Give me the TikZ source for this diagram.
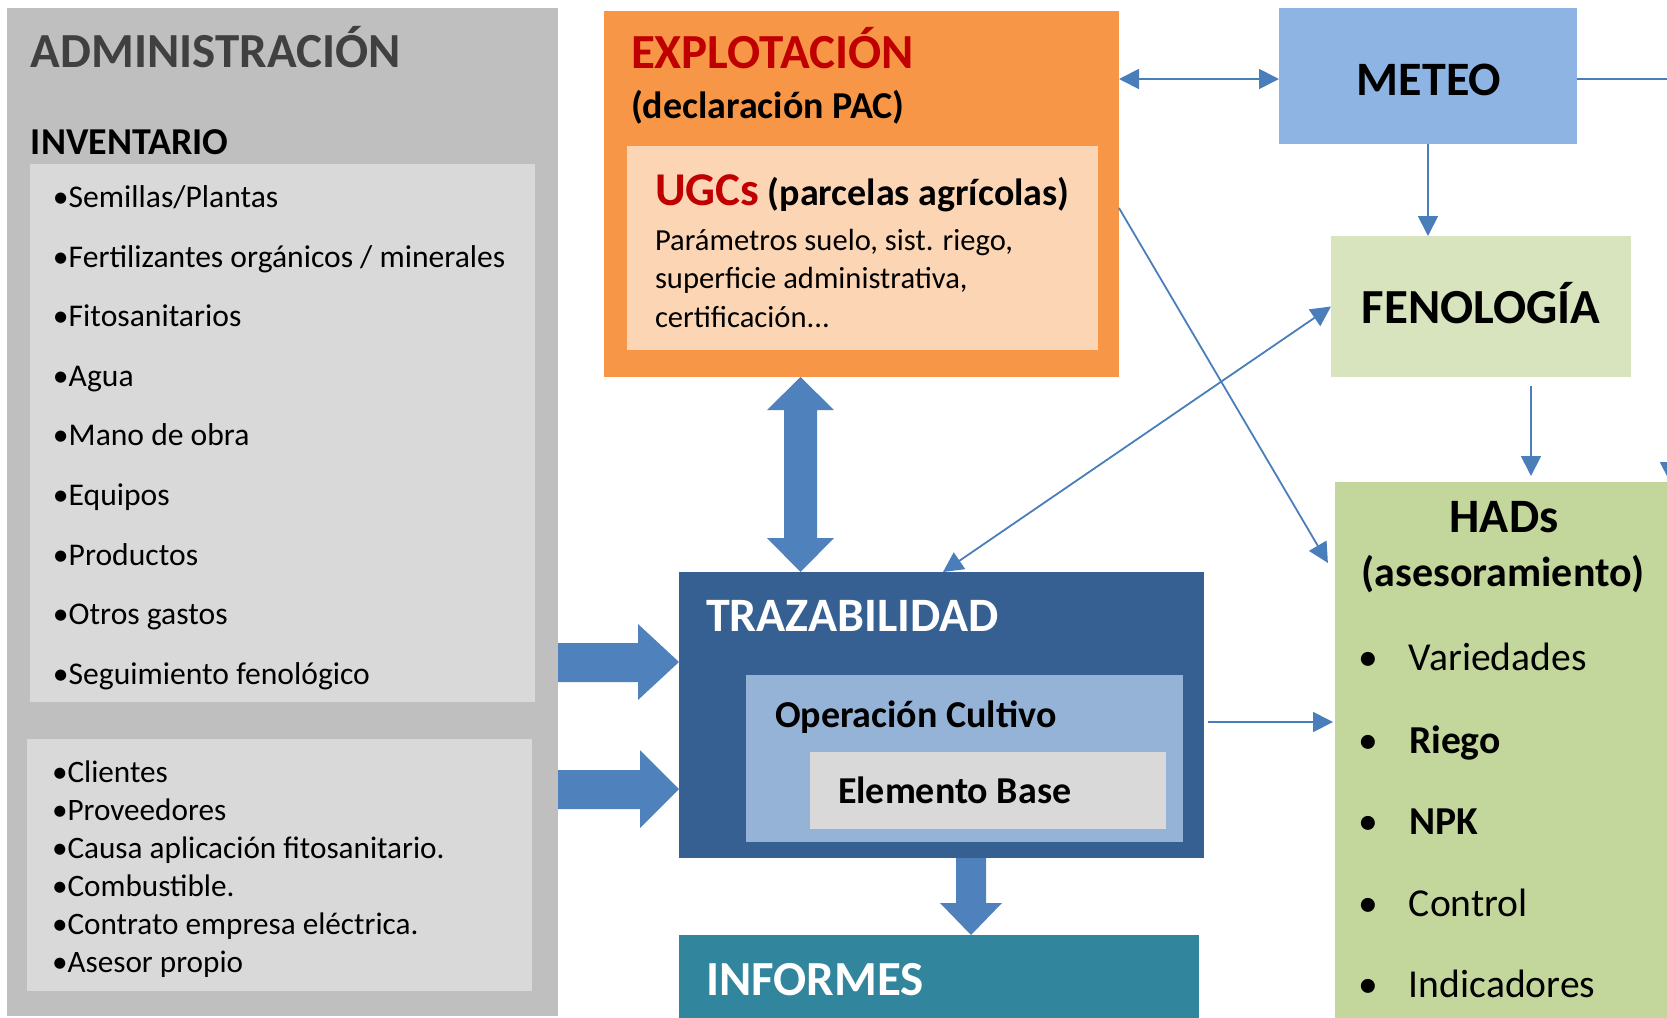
\documentclass[tikz,border=0pt]{standalone}
\usepackage{fontspec}
\setmainfont{Carlito}
\usetikzlibrary{arrows.meta,calc}

\definecolor{admingray}{HTML}{BFBFBF}
\definecolor{lightgray}{HTML}{D9D9D9}
\definecolor{titlegray}{HTML}{404040}
\definecolor{explorange}{HTML}{F79646}
\definecolor{ugcpeach}{HTML}{FCD5B4}
\definecolor{darkred}{HTML}{C00000}
\definecolor{meteoblue}{HTML}{8EB4E3}
\definecolor{fengreen}{HTML}{D7E4BD}
\definecolor{hadsgreen}{HTML}{C3D69B}
\definecolor{trazblue}{HTML}{376092}
\definecolor{operblue}{HTML}{95B3D7}
\definecolor{infoteal}{HTML}{31859C}
\definecolor{arrowblue}{HTML}{4F81BD}
\definecolor{linkblue}{HTML}{4A7EBB}

\tikzset{every picture/.style={line width=0.75pt}}
\tikzset{
	box/.style={anchor=north west, inner sep=0pt, outer sep=0pt, draw=none},
	txt/.style={anchor=base west, inner sep=0pt, outer sep=0pt},
	conn/.style={draw=linkblue, line width=0.9pt, -{Triangle[length=10pt,width=10pt]}},
	dconn/.style={draw=linkblue, line width=0.9pt, {Triangle[length=10pt,width=10pt]}-{Triangle[length=10pt,width=10pt]}},
	blockarrow/.style={fill=arrowblue, draw=none}}

\begin{document}
\begin{tikzpicture}[x=0.5pt,y=0.5pt,yscale=-1,xscale=1]
	\useasboundingbox (0,0) rectangle (1667,1018);
	\clip (0,0) rectangle (1667,1018);

	%Shape: Rectangle
	\node[box, fill=admingray, minimum width=275.5pt, minimum height=504pt] (admin) at (7,8) {};
	%Shape: Rectangle
	\node[box, fill=lightgray, minimum width=252.5pt, minimum height=269pt] (inv) at (30,164) {};
	%Shape: Rectangle
	\node[box, fill=lightgray, minimum width=252.5pt, minimum height=126pt] (misc) at (27,739) {};
	%Shape: Rectangle
	\node[box, fill=explorange, minimum width=257.5pt, minimum height=183pt] (explo) at (604,11) {};
	%Shape: Rectangle
	\node[box, fill=ugcpeach, minimum width=235.5pt, minimum height=102pt] (ugc) at (627,146) {};
	%Shape: Rectangle
	\node[box, fill=meteoblue, minimum width=149pt, minimum height=68pt] (meteo) at (1279,8) {};
	%Shape: Rectangle
	\node[box, fill=fengreen, minimum width=150pt, minimum height=70.5pt] (fen) at (1331,236) {};
	%Shape: Rectangle
	\node[box, fill=hadsgreen, minimum width=168.5pt, minimum height=275pt] (hads) at (1335,482) {};
	%Shape: Rectangle
	\node[box, fill=trazblue, minimum width=262.5pt, minimum height=143pt] (traz) at (679,572) {};
	%Shape: Rectangle
	\node[box, fill=operblue, minimum width=218.5pt, minimum height=83.5pt] (oper) at (746,675) {};
	%Shape: Rectangle
	\node[box, fill=lightgray, minimum width=178pt, minimum height=38.5pt] (elem) at (810,752) {};
	%Shape: Rectangle
	\node[box, fill=infoteal, minimum width=260pt, minimum height=50pt] (informes) at (679,935) {};

	%Right Arrow
	\fill[blockarrow] (explo.south -| 800.5,0) -- (834,410) -- (817,410) -- (817,538) -- (834,538) -- (traz.north -| 800.5,0) -- (767,538) -- (784,538) -- (784,410) -- (767,410) -- cycle ;
	%Right Arrow
	\fill[blockarrow] (admin.east |- 0,643) -- (638,643) -- (638,624) -- (traz.west |- 0,662) -- (638,700) -- (638,682) -- (admin.east |- 0,682) -- cycle ;
	%Right Arrow
	\fill[blockarrow] (admin.east |- 0,770) -- (640,770) -- (640,750) -- (traz.west |- 0,789) -- (640,828) -- (640,809) -- (admin.east |- 0,809) -- cycle ;
	%Right Arrow
	\fill[blockarrow] (traz.south -| 956,0) -- (986,858) -- (986,903) -- (1002,903) -- (informes.north -| 971,0) -- (940,903) -- (956,903) -- cycle ;

	%Straight Lines
	\draw[dconn] (explo.east |- 0,79) -- (meteo.west |- 0,79);
	\coordinate (meteoturn) at (1670,79);
	\draw[conn] (meteo.east |- 0,79) -- (meteoturn) -- (meteoturn |- hads.north);
	\draw[conn] (meteo.south) -- (meteo.south |- fen.north);
	\draw[conn, shorten <=4.5pt, shorten >=3pt] (fen.south -| 1531,0) -- (hads.north -| 1531,0);
	\draw[conn, shorten >=7pt] (explo.east |- 0,208) -- (hads.west |- 0,575);
	\draw[dconn] (traz.north -| 943,0) -- (fen.west);
	\draw[conn, shorten <=2pt, shorten >=1pt] (traz.east |- 0,722) -- (hads.west |- 0,722);

	% Text Node
	\node[txt, text=titlegray, font=\fontsize{24.5pt}{28pt}\selectfont\bfseries] (admintitle) at (31,67) {ADMINISTRACIÓN};
	% Text Node
	\node[txt, font=\fontsize{19pt}{22pt}\selectfont\bfseries] (invtitle) at (31,154) {INVENTARIO};
	% Text Node
	\node[txt, font=\fontsize{15.8pt}{19pt}\selectfont] (inv1) at (53,207) {•Semillas/Plantas};
	\node[txt, font=\fontsize{15.8pt}{19pt}\selectfont] (inv2) at (53,267) {•Fertilizantes orgánicos / minerales};
	\node[txt, font=\fontsize{15.8pt}{19pt}\selectfont] (inv3) at (53,326) {•Fitosanitarios};
	\node[txt, font=\fontsize{15.8pt}{19pt}\selectfont] (inv4) at (53,386) {•Agua};
	\node[txt, font=\fontsize{15.8pt}{19pt}\selectfont] (inv5) at (53,445) {•Mano de obra};
	\node[txt, font=\fontsize{15.8pt}{19pt}\selectfont] (inv6) at (53,505) {•Equipos};
	\node[txt, font=\fontsize{15.8pt}{19pt}\selectfont] (inv7) at (53,565) {•Productos};
	\node[txt, font=\fontsize{15.8pt}{19pt}\selectfont] (inv8) at (53,624) {•Otros gastos};
	\node[txt, font=\fontsize{15.8pt}{19pt}\selectfont] (inv9) at (53,684) {•Seguimiento fenológico};
	% Text Node
	\node[txt, font=\fontsize{15.6pt}{19pt}\selectfont] (misc1) at (52,782) {•Clientes};
	\node[txt, font=\fontsize{15.6pt}{19pt}\selectfont] (misc2) at (52,820) {•Proveedores};
	\node[txt, font=\fontsize{15.6pt}{19pt}\selectfont] (misc3) at (52,858) {•Causa aplicación fitosanitario.};
	\node[txt, font=\fontsize{15.6pt}{19pt}\selectfont] (misc4) at (52,896) {•Combustible.};
	\node[txt, font=\fontsize{15.6pt}{19pt}\selectfont] (misc5) at (52,934) {•Contrato empresa eléctrica.};
	\node[txt, font=\fontsize{15.6pt}{19pt}\selectfont] (misc6) at (52,972) {•Asesor propio};

	% Text Node
	\node[txt, text=darkred, font=\fontsize{24.5pt}{28pt}\selectfont\bfseries] (explotitle) at (631,68) {EXPLOTACIÓN};
	% Text Node
	\node[txt, font=\fontsize{19pt}{22pt}\selectfont\bfseries] (explosub) at (631,118) {(declaración PAC)};
	% Text Node
	\node[txt, font=\fontsize{19pt}{22pt}\selectfont\bfseries] (ugctitle) at (655,205) {{\color{darkred}\fontsize{23.5pt}{26pt}\selectfont UGCs} (parcelas agrícolas)};
	% Text Node
	\node[txt, font=\fontsize{15.3pt}{19pt}\selectfont] (ugc1) at (655,250) {Parámetros suelo, sist. riego,};
	\node[txt, font=\fontsize{15.3pt}{19pt}\selectfont] (ugc2) at (655,288) {superficie administrativa,};
	\node[txt, font=\fontsize{15.3pt}{19pt}\selectfont] (ugc3) at (655,327) {certificación...};

	% Text Node
	\node[anchor=base, inner sep=0pt, font=\fontsize{24pt}{28pt}\selectfont\bfseries] (meteotitle) at (1429,95) {METEO};
	% Text Node
	\node[anchor=base, inner sep=0pt, font=\fontsize{24.5pt}{28pt}\selectfont\bfseries] (fentitle) at (1481,323) {FENOLOGÍA};

	% Text Node
	\node[anchor=base, inner sep=0pt, font=\fontsize{24pt}{28pt}\selectfont\bfseries] (hadstitle) at (1504,532) {HADs};
	\node[anchor=base, inner sep=0pt, font=\fontsize{21pt}{24pt}\selectfont\bfseries] (hadssub) at (1503,586) {(asesoramiento)};
	% Text Node
	\node[txt, font=\fontsize{19.8pt}{24pt}\selectfont] (hads1) at (1409,670) {\llap{•\hspace{15.5pt}}Variedades};
	\node[txt, font=\fontsize{19.8pt}{24pt}\selectfont] (hads2) at (1409,753) {\llap{•\hspace{15.5pt}}\textbf{Riego}};
	\node[txt, font=\fontsize{19.8pt}{24pt}\selectfont] (hads3) at (1409,834) {\llap{•\hspace{15.5pt}}\textbf{NPK}};
	\node[txt, font=\fontsize{19.8pt}{24pt}\selectfont] (hads4) at (1409,916) {\llap{•\hspace{15.5pt}}Control};
	\node[txt, font=\fontsize{19.8pt}{24pt}\selectfont] (hads5) at (1409,997) {\llap{•\hspace{15.5pt}}Indicadores};

	% Text Node
	\node[txt, text=white, font=\fontsize{24pt}{28pt}\selectfont\bfseries] (traztitle) at (706,631) {TRAZABILIDAD};
	% Text Node
	\node[txt, font=\fontsize{19pt}{22pt}\selectfont\bfseries] (opertitle) at (775,727) {Operación Cultivo};
	% Text Node
	\node[txt, font=\fontsize{19pt}{22pt}\selectfont\bfseries] (elemtitle) at (838,803) {Elemento Base};
	% Text Node
	\node[txt, text=white, font=\fontsize{24.5pt}{28pt}\selectfont\bfseries] (infotitle) at (706,995) {INFORMES};

\end{tikzpicture}
\end{document}
